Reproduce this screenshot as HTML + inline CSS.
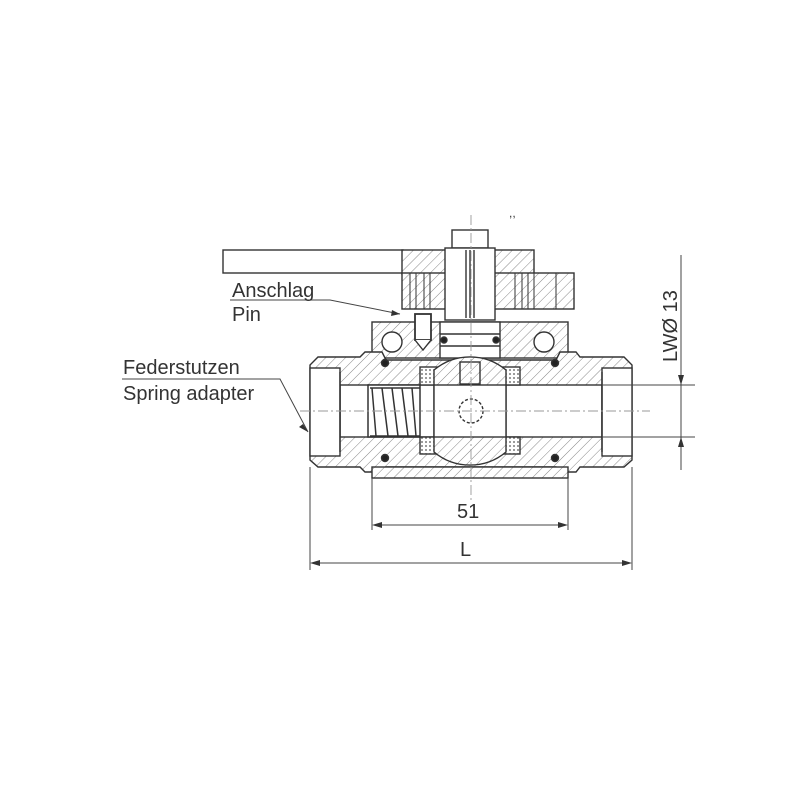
<!DOCTYPE html>
<html><head><style>body{margin:0;background:#fff}svg{display:block}text{font-family:"Liberation Sans",sans-serif;fill:#333}</style></head>
<body>
<svg width="800" height="800" viewBox="0 0 800 800" xmlns="http://www.w3.org/2000/svg">
<defs>
<pattern id="h" width="7" height="7" patternUnits="userSpaceOnUse" patternTransform="rotate(45)">
<rect width="7" height="7" fill="#fff"/><line x1="0" y1="0" x2="0" y2="7" stroke="#888" stroke-width="1"/></pattern>
<pattern id="d" width="4" height="4" patternUnits="userSpaceOnUse"><rect width="4" height="4" fill="#fff"/><circle cx="2" cy="2" r="0.9" fill="#555"/></pattern>
</defs>
<g stroke="#333" stroke-width="1.4" fill="none">
<rect x="223" y="250" width="180" height="23" fill="#fff"/>
<rect x="402" y="250" width="132" height="24" fill="url(#h)"/>
<rect x="402" y="273" width="172" height="36" fill="url(#h)"/>
<g stroke-width="1">
<line x1="410" y1="273" x2="410" y2="309"/><line x1="416" y1="273" x2="416" y2="309"/><line x1="424" y1="273" x2="424" y2="309"/><line x1="430" y1="273" x2="430" y2="309"/>
<line x1="515" y1="273" x2="515" y2="309"/><line x1="522" y1="273" x2="522" y2="309"/><line x1="528" y1="273" x2="528" y2="309"/><line x1="534" y1="273" x2="534" y2="309"/><line x1="556" y1="273" x2="556" y2="309"/>
</g>
<rect x="452" y="230" width="36" height="18" fill="#fff"/>
<rect x="445" y="248" width="50" height="72" fill="#fff"/>
<line x1="470" y1="250" x2="470" y2="318"/><line x1="466" y1="250" x2="466" y2="318"/><line x1="474" y1="250" x2="474" y2="318"/>
<rect x="372" y="322" width="196" height="36" fill="url(#h)"/>
<rect x="440" y="322" width="60" height="36" fill="#fff"/>
<line x1="440" y1="334" x2="500" y2="334"/><line x1="440" y1="346" x2="500" y2="346"/>
<circle cx="444" cy="340" r="3" fill="#222"/><circle cx="496" cy="340" r="3" fill="#222"/>
<circle cx="392" cy="342" r="10" fill="#fff"/><circle cx="544" cy="342" r="10" fill="#fff"/>
<rect x="415" y="314" width="16" height="26" fill="#fff" stroke-width="1.8"/>
<path d="M415 340 L423 350 L431 340" fill="#fff"/>
<path d="M318 357 H360 L365 352 H382 L386 360 H556 L560 352 H576 L580 357 H624 L632 365 V460 L624 467 H580 L576 472 H560 L556 467 H386 L382 472 H365 L360 467 H318 L310 460 V365 Z" fill="url(#h)"/>
<rect x="372" y="467" width="196" height="11" fill="url(#h)"/>
<rect x="340" y="385" width="262" height="52" fill="#fff"/>
<rect x="310" y="368" width="30" height="88" fill="#fff"/>
<rect x="602" y="368" width="30" height="88" fill="#fff"/>
<line x1="340" y1="372" x2="340" y2="452"/><line x1="602" y1="372" x2="602" y2="452"/>
<rect x="420" y="367" width="17" height="18" fill="url(#d)"/><rect x="420" y="437" width="17" height="17" fill="url(#d)"/>
<rect x="503" y="367" width="17" height="18" fill="url(#d)"/><rect x="503" y="437" width="17" height="17" fill="url(#d)"/>
<path d="M434 370 A56 56 0 0 1 506 370 L506 452 A56 56 0 0 1 434 452 Z" fill="url(#h)"/>
<rect x="434" y="385" width="72" height="52" fill="#fff"/>
<rect x="460" y="362" width="20" height="22" fill="url(#h)"/>
<circle cx="471" cy="411" r="12" stroke-dasharray="3 2"/>
<g stroke-width="1.5">
<rect x="368" y="385" width="52" height="52" fill="#fff"/>
<path d="M372 388 L376 436 M382 388 L388 436 M392 388 L398 436 M402 388 L408 436 M412 388 L416 436"/>
<line x1="370" y1="388" x2="420" y2="388"/><line x1="370" y1="436" x2="420" y2="436"/>
</g>
<circle cx="385" cy="363" r="3.5" fill="#222"/><circle cx="555" cy="363" r="3.5" fill="#222"/>
<circle cx="385" cy="458" r="3.5" fill="#222"/><circle cx="555" cy="458" r="3.5" fill="#222"/>
</g>
<g stroke="#999" stroke-width="0.9" stroke-dasharray="10 3 2 3">
<line x1="300" y1="411" x2="650" y2="411"/><line x1="471" y1="215" x2="471" y2="500"/>
</g>
<g stroke="#444" stroke-width="1" fill="none">
<line x1="372" y1="478" x2="372" y2="530"/><line x1="568" y1="478" x2="568" y2="530"/>
<line x1="310" y1="467" x2="310" y2="570"/><line x1="632" y1="467" x2="632" y2="570"/>
<line x1="374" y1="525" x2="566" y2="525"/><line x1="312" y1="563" x2="630" y2="563"/>
<line x1="602" y1="385" x2="695" y2="385"/><line x1="602" y1="437" x2="695" y2="437"/>
<line x1="681" y1="255" x2="681" y2="470"/>
<path d="M230 300 H330 L400 314"/><path d="M122 379 H280 L308 432"/>
</g>
<g fill="#333">
<path d="M372 525 l10 -3 v6z"/><path d="M568 525 l-10 -3 v6z"/>
<path d="M310 563 l10 -3 v6z"/><path d="M632 563 l-10 -3 v6z"/>
<path d="M681 385 l-3 -10 h6z"/><path d="M681 437 l-3 10 h6z"/>
<path d="M400 314 l-8 -4 l-1 6z"/><path d="M308 432 l-5 -8 l-4 3z"/>
</g>
<text x="509" y="217" font-size="12">,,</text>
<text x="232" y="297" font-size="20">Anschlag</text>
<text x="232" y="321" font-size="20">Pin</text>
<text x="123" y="374" font-size="20">Federstutzen</text>
<text x="123" y="400" font-size="20">Spring adapter</text>
<text x="457" y="518" font-size="20">51</text>
<text x="460" y="556" font-size="20">L</text>
<text transform="translate(677,362) rotate(-90)" font-size="20">LWØ 13</text>
</svg>
</body></html>
